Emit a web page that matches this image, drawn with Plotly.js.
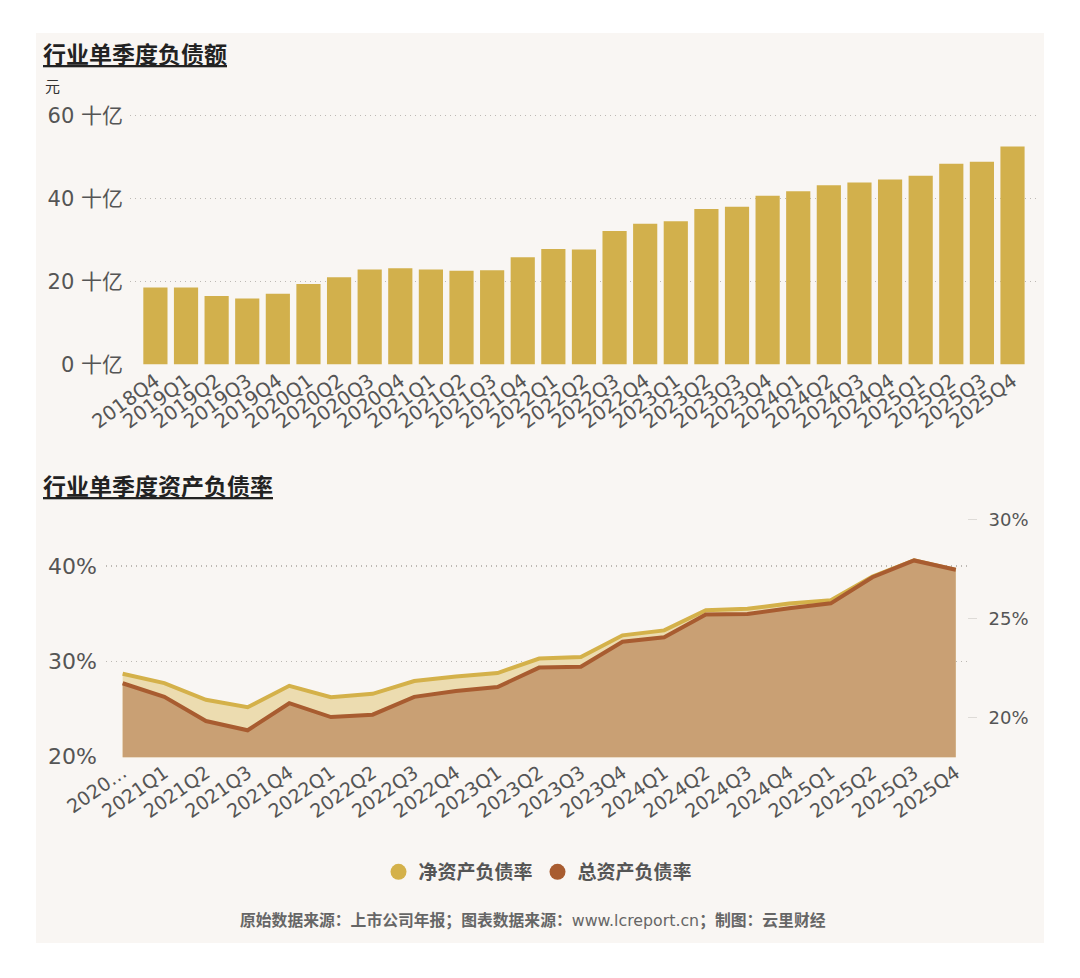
<!DOCTYPE html>
<html>
<head>
<meta charset="utf-8">
<script src="https://cdn.plot.ly/plotly-3.0.1.min.js"></script>
<style>
  body { margin: 0; background: #ffffff; }
  #chart { width: 1080px; height: 978px; }
</style>
</head>
<body>
<div id="chart"></div>
<script>
// 行业单季度负债额 (十亿元)
var debtQuarters = ['2018Q4','2019Q1','2019Q2','2019Q3','2019Q4','2020Q1','2020Q2','2020Q3','2020Q4',
  '2021Q1','2021Q2','2021Q3','2021Q4','2022Q1','2022Q2','2022Q3','2022Q4','2023Q1','2023Q2','2023Q3',
  '2023Q4','2024Q1','2024Q2','2024Q3','2024Q4','2025Q1','2025Q2','2025Q3','2025Q4'];
var debtValues = [18.55, 18.55, 16.5, 15.9, 17.0, 19.35, 21.0, 22.9, 23.2,
  22.9, 22.55, 22.7, 25.85, 27.85, 27.7, 32.2, 33.9, 34.5, 37.5, 38.0,
  40.7, 41.75, 43.2, 43.9, 44.6, 45.5, 48.4, 48.9, 52.6];
var debtTicks = [0, 20, 40, 60];
var debtTickLabels = ['0 十亿', '20 十亿', '40 十亿', '60 十亿'];

// 行业单季度资产负债率 (%)
var rateQuarters = ['2020Q4','2021Q1','2021Q2','2021Q3','2021Q4','2022Q1','2022Q2','2022Q3','2022Q4',
  '2023Q1','2023Q2','2023Q3','2023Q4','2024Q1','2024Q2','2024Q3','2024Q4','2025Q1','2025Q2','2025Q3','2025Q4'];
var rateTickLabels = ['2020…','2021Q1','2021Q2','2021Q3','2021Q4','2022Q1','2022Q2','2022Q3','2022Q4',
  '2023Q1','2023Q2','2023Q3','2023Q4','2024Q1','2024Q2','2024Q3','2024Q4','2025Q1','2025Q2','2025Q3','2025Q4'];
var netRatio = [28.7, 27.73, 25.97, 25.2, 27.44, 26.25, 26.6, 27.94, 28.42,
  28.78, 30.3, 30.46, 32.74, 33.26, 35.37, 35.52, 36.07, 36.42, 38.9, 40.6, 39.6];
var totalRatio = [21.72, 21.03, 19.81, 19.34, 20.71, 20.01, 20.13, 21.03, 21.33,
  21.53, 22.51, 22.55, 23.82, 24.04, 25.19, 25.22, 25.51, 25.76, 27.08, 27.93, 27.46];
var netTicks = [20, 30, 40];
var netTickLabels = ['20%', '30%', '40%'];
var totalTicks = [20, 25, 30];
var totalTickLabels = ['20%', '25%', '30%'];

var W = 1080, H = 978;
function px(x) { return x / W; }
function py(y) { return 1 - y / H; }

var FONT = 'DejaVu Sans, Noto Sans CJK SC, sans-serif';
var gold = '#d2b04c', goldLine = '#d4b14a', goldFill = '#ecdcb0';
var brownLine = '#a85c30', brownFill = '#c9a074';
var gridCol = '#bdb9b4';

var data = [
  {
    type: 'bar', x: debtQuarters, y: debtValues,
    xaxis: 'x', yaxis: 'y',
    marker: { color: gold },
    showlegend: false,
    hovertemplate: '%{x}: %{y} 十亿<extra></extra>'
  },
  {
    type: 'scatter', mode: 'lines', x: rateQuarters, y: netRatio,
    xaxis: 'x2', yaxis: 'y3',
    line: { color: goldLine, width: 4 },
    fill: 'tozeroy', fillcolor: goldFill,
    showlegend: false, name: '净资产负债率'
  },
  {
    type: 'scatter', mode: 'lines', x: rateQuarters, y: totalRatio,
    xaxis: 'x2', yaxis: 'y4',
    line: { color: brownLine, width: 4 },
    fill: 'tozeroy', fillcolor: brownFill,
    showlegend: false, name: '总资产负债率'
  },
  // legend entries only
  {
    type: 'scatter', mode: 'markers', x: [null], y: [null], xaxis: 'x2', yaxis: 'y3',
    marker: { color: goldLine, size: 17, symbol: 'circle' }, name: '净资产负债率'
  },
  {
    type: 'scatter', mode: 'markers', x: [null], y: [null], xaxis: 'x2', yaxis: 'y4',
    marker: { color: brownLine, size: 17, symbol: 'circle' }, name: '总资产负债率'
  }
];

var layout = {
  width: W, height: H,
  margin: { l: 0, r: 0, t: 0, b: 0 },
  paper_bgcolor: '#ffffff',
  plot_bgcolor: 'rgba(0,0,0,0)',
  font: { family: FONT, color: '#555' },
  bargap: 0.21,
  xaxis: {
    domain: [px(130), px(1037)], anchor: 'y',
    type: 'category', range: [-0.83, 28.8],
    tickangle: -36, tickfont: { family: FONT, size: 19.5, color: '#555' },
    showgrid: false, zeroline: false, showline: false, ticks: ''
  },
  yaxis: {
    domain: [py(365.1), py(114.5)], anchor: 'x',
    range: [-0.2, 60.3], tickmode: 'array', tickvals: debtTicks, ticktext: debtTickLabels,
    tickfont: { family: FONT, size: 21, color: '#555' },
    showgrid: true, gridcolor: gridCol, griddash: '1px,4px', gridwidth: 1.5,
    zeroline: false, showline: false, ticklabelstandoff: 6
  },
  xaxis2: {
    domain: [px(106), px(967)], anchor: 'y3',
    type: 'category', range: [-0.4, 20.27],
    tickmode: 'array', tickvals: rateQuarters, ticktext: rateTickLabels,
    tickangle: -35, tickfont: { family: FONT, size: 19, color: '#555' },
    showgrid: false, zeroline: false, showline: false, ticks: ''
  },
  yaxis3: {
    domain: [py(757.2), py(518.5)], anchor: 'x2',
    range: [19.95, 45], tickmode: 'array', tickvals: netTicks, ticktext: netTickLabels,
    tickfont: { family: FONT, size: 22, color: '#555' },
    showgrid: true, gridcolor: gridCol, griddash: '1px,4px', gridwidth: 1.5,
    zeroline: false, showline: false, ticklabelstandoff: 8
  },
  yaxis4: {
    overlaying: 'y3', side: 'right', anchor: 'x2',
    range: [17.98, 30.05], tickmode: 'array', tickvals: totalTicks, ticktext: totalTickLabels,
    tickfont: { family: FONT, size: 18, color: '#555' },
    showgrid: false, zeroline: false, showline: false,
    ticks: 'outside', ticklen: 9, tickcolor: '#dedbd7', tickwidth: 1,
    ticklabelstandoff: 8
  },
  legend: {
    orientation: 'h', x: px(538), xanchor: 'center', y: py(872), yanchor: 'middle',
    bgcolor: 'rgba(0,0,0,0)',
    font: { family: FONT, size: 19, color: '#555', weight: 'bold' },
    itemwidth: 30, tracegroupgap: 0
  },
  shapes: [
    {
      type: 'rect', xref: 'paper', yref: 'paper', layer: 'below',
      x0: px(36), x1: px(1044), y0: py(943), y1: py(33),
      fillcolor: '#f9f6f3', line: { width: 0 }
    }
  ],
  annotations: [
    {
      xref: 'paper', yref: 'paper', x: px(41), y: py(55), xanchor: 'left', yanchor: 'middle',
      text: '<b><u>行业单季度负债额</u></b>', showarrow: false,
      font: { family: FONT, size: 23, color: '#222' }
    },
    {
      xref: 'paper', yref: 'paper', x: px(43), y: py(87), xanchor: 'left', yanchor: 'middle',
      text: '元', showarrow: false,
      font: { family: FONT, size: 15, color: '#333' }
    },
    {
      xref: 'paper', yref: 'paper', x: px(41), y: py(487), xanchor: 'left', yanchor: 'middle',
      text: '<b><u>行业单季度资产负债率</u></b>', showarrow: false,
      font: { family: FONT, size: 23, color: '#222' }
    },
    {
      xref: 'paper', yref: 'paper', x: px(533), y: py(920), xanchor: 'center', yanchor: 'middle',
      text: '<b>原始数据来源：上市公司年报；图表数据来源：</b>www.lcreport.cn<b>；制图：云里财经</b>',
      showarrow: false,
      font: { family: FONT, size: 15.8, color: '#666' }
    }
  ]
};

Plotly.newPlot('chart', data, layout, { displayModeBar: false, staticPlot: true });
</script>
</body>
</html>
